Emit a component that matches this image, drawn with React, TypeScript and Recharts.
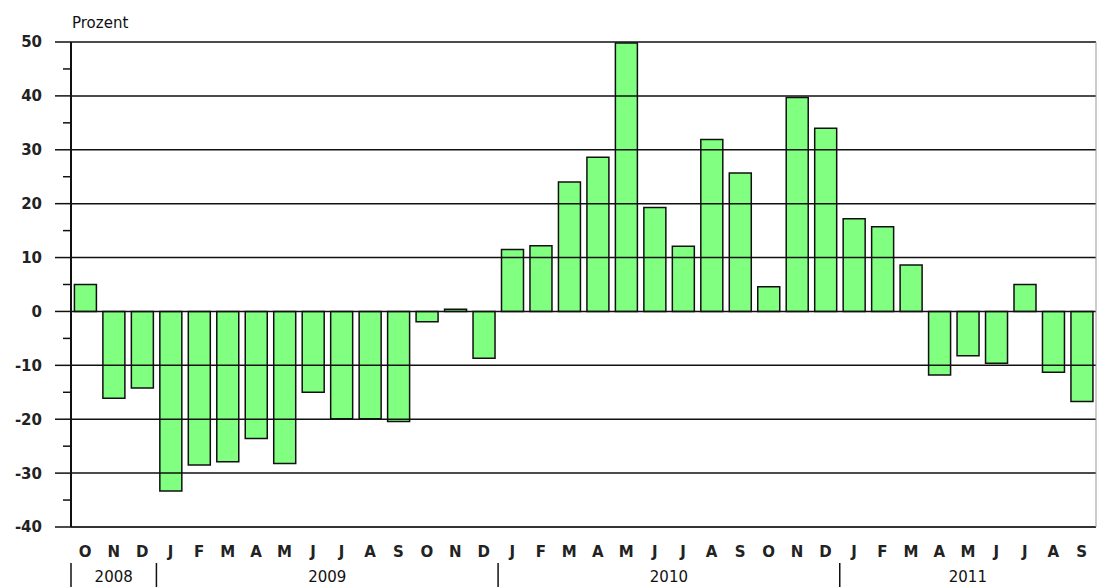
import React from "react";
import {
  Bar,
  BarChart,
  ReferenceLine,
  XAxis,
  YAxis,
} from "recharts";

// Monatsbuchstaben, Okt. 2008 bis Sep. 2011
const monate = [
  "O", "N", "D",
  "J", "F", "M", "A", "M", "J", "J", "A", "S", "O", "N", "D",
  "J", "F", "M", "A", "M", "J", "J", "A", "S", "O", "N", "D",
  "J", "F", "M", "A", "M", "J", "J", "A", "S",
];

const jahre = ["2008", "2009", "2010", "2011"];
const monateProJahr = [3, 12, 12, 9];

// Veränderung in Prozent
const werte = [
  5.0, -16.1, -14.2,
  -33.3, -28.5, -27.9, -23.6, -28.2, -15.0, -19.9, -19.9, -20.4, -1.9, 0.4, -8.7,
  11.5, 12.2, 24.0, 28.6, 49.8, 19.3, 12.1, 31.9, 25.7, 4.6, 39.7, 34.0,
  17.2, 15.7, 8.6, -11.8, -8.2, -9.6, 5.0, -11.3, -16.7,
];

const yTicks = [-40, -35, -30, -25, -20, -15, -10, -5, 0, 5, 10, 15, 20, 25, 30, 35, 40, 45, 50];
const gridWerte = [-30, -20, -10, 0, 10, 20, 30, 40, 50];

const daten = monate.map((m, i) => ({ idx: i, monat: m, wert: werte[i] }));

// Anfangsindex jedes Jahres
const jahrStart: number[] = [];
monateProJahr.reduce((acc, n) => {
  jahrStart.push(acc);
  return acc + n;
}, 0);

const FONT = "'DejaVu Sans', sans-serif";

const YTick = (props: any) => {
  const { x, y, payload } = props;
  const v = payload.value;
  if (v % 10 !== 0) {
    return <line x1={x} x2={x + 8} y1={y} y2={y} stroke="#111" strokeWidth={1.5} />;
  }
  return (
    <g>
      <line x1={x - 8} x2={x + 8} y1={y} y2={y} stroke="#111" strokeWidth={1.5} />
      <text
        x={x - 21}
        y={y}
        dy="0.36em"
        textAnchor="end"
        fontFamily={FONT}
        fontSize={15}
        fontWeight={600}
        fill="#222"
      >
        {v}
      </text>
    </g>
  );
};

const XTick = (props: any) => {
  const { x, y, payload } = props;
  const i = payload.index ?? payload.value;
  const half = payload.offset || 14.2;
  const parts: React.ReactNode[] = [];

  parts.push(
    <text
      key="m"
      x={x}
      y={y + 17}
      dy="0.36em"
      textAnchor="middle"
      fontFamily={FONT}
      fontWeight="bold"
      fontSize={15}
      fill="#222"
    >
      {monate[i]}
    </text>
  );

  jahre.forEach((jahr, j) => {
    const s = jahrStart[j];
    const n = monateProJahr[j];
    if (i === s) {
      const sx = x - half;
      parts.push(
        <line key={"s" + j} x1={sx} x2={sx} y1={y + 28} y2={y + 54} stroke="#111" strokeWidth={1.5} />
      );
    }
    const mid = s + (n - 1) / 2;
    if (i === Math.floor(mid)) {
      parts.push(
        <text
          key={"j" + j}
          x={x + (mid - Math.floor(mid)) * 2 * half}
          y={y + 42}
          dy="0.36em"
          textAnchor="middle"
          fontFamily={FONT}
          fontSize={15}
          fill="#111"
        >
          {jahr}
        </text>
      );
    }
  });

  return <g>{parts}</g>;
};

const App = () => {
  return (
    <div style={{ position: "absolute", left: 0, top: 0, background: "#fff" }}>
      <div style={{ position: "relative", width: 1097, height: 587 }}>
        <div
          style={{
            position: "absolute",
            left: 72,
            top: 14,
            fontFamily: FONT,
            fontSize: 15,
            color: "#111",
          }}
        >
          Prozent
        </div>
        <BarChart
          width={1097}
          height={587}
          data={daten}
          margin={{ top: 42, right: 0, bottom: 0, left: 0 }}
          barCategoryGap="12%"
        >
          {gridWerte.map((v) => (
            <ReferenceLine key={v} y={v} stroke="#111" strokeWidth={1.5} />
          ))}
          <XAxis
            dataKey="idx"
            type="category"
            height={60}
            axisLine={false}
            tickLine={false}
            interval={0}
            tick={<XTick />}
          />
          <YAxis
            domain={[-40, 50]}
            ticks={yTicks}
            interval={0}
            width={71}
            tickSize={8}
            tickMargin={0}
            tickLine={false}
            axisLine={{ stroke: "#111", strokeWidth: 2 }}
            tick={<YTick />}
          />
          <YAxis
            yAxisId="rand"
            orientation="right"
            domain={[-40, 50]}
            width={1}
            tick={false}
            tickLine={false}
            axisLine={{ stroke: "#999", strokeWidth: 1 }}
          />
          <ReferenceLine y={-40} stroke="#333" strokeWidth={2} />
          <Bar
            dataKey="wert"
            fill="#80ff80"
            stroke="#111"
            strokeWidth={1.5}
            isAnimationActive={false}
          />
        </BarChart>
      </div>
    </div>
  );
};

export default App;
